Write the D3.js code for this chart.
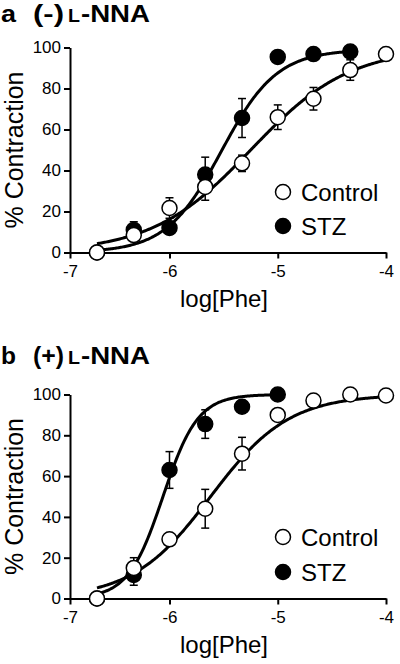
<!DOCTYPE html>
<html>
<head>
<meta charset="utf-8">
<script src="https://cdn.jsdelivr.net/npm/d3@7"></script>
<style>
  html, body { margin: 0; padding: 0; background: #fff; }
  svg { display: block; }
  text { font-family: Arial, "Liberation Sans", Helvetica, sans-serif; fill: #000; }
</style>
</head>
<body>
<svg id="chart" width="400" height="664"></svg>
<script>
// ---- data ----
const doses = [-6.67, -6.33, -6, -5.67, -5.33, -5, -4.67, -4.33, -4];
const xTicks = [-7, -6, -5, -4];
const yTicks = [0, 20, 40, 60, 80, 100];

// Panel a: (-) L-NNA
const controlA    = [0, 8.5, 21.7, 32, 43.5, 66, 75, 89, 96.8];
const controlAErr = [0, 3, 5, 6.5, 4, 6, 5.5, 5, 0];
const stzA        = [0, 11, 12, 38, 65.6, 95.4, 96.8, 98];
const stzAErr     = [0, 4, 3, 8.5, 9.5, 2, 2, 2];

// Panel b: (+) L-NNA
const controlB    = [0, 15, 29, 44, 71, 90, 97, 100, 99.5];
const controlBErr = [0, 5, 2, 9.5, 8, 1, 1, 0, 0];
const stzB        = [0, 11.5, 63, 85.5, 94, 100];
const stzBErr     = [0, 5, 9, 7, 3, 1];

// fitted sigmoid curves: [bottom, top, logEC50, hillSlope, xStart, xEnd]
const fitControlA = [0, 100, -5.25, 0.95, -6.67, -4];
const fitStzA     = [0, 99, -5.52, 1.7, -6.67, -4.33];
const fitControlB = [0, 100, -5.62, 1.2, -6.67, -4];
const fitStzB     = [0, 100, -6.06, 2.7, -6.67, -5];

const svg = d3.select("#chart");

function hill(p, x) {
  return p[0] + (p[1] - p[0]) / (1 + Math.pow(10, (p[2] - x) * p[3]));
}

function panel(opt) {
  const g = svg.append("g");
  const x = d3.scaleLinear().domain([-6, -4]).range([169.5, 386]);
  const xAxisScale = d3.scaleLinear().domain([-7, -6, -4]).range([70, 169.5, 386]);
  const y = d3.scaleLinear().domain([0, 100]).range([opt.y0, opt.y100]);

  // axes
  const yAxis = g.append("g").attr("transform", "translate(70,0)")
    .call(d3.axisLeft(y).tickValues(yTicks).tickSize(6).tickPadding(3).tickSizeOuter(0));
  yAxis.select(".domain").attr("stroke-width", 2);
  yAxis.selectAll(".tick line").attr("stroke-width", 2);
  yAxis.selectAll(".tick text").attr("font-size", 17).style("font-family", "Arial, 'Liberation Sans', sans-serif");

  const xAxis = g.append("g").attr("transform", `translate(0,${opt.y0})`)
    .call(d3.axisBottom(xAxisScale).tickValues(xTicks).tickSize(6).tickPadding(6).tickSizeOuter(0)
      .tickFormat(d => "-" + Math.abs(d)));
  xAxis.select(".domain").attr("stroke-width", 2);
  xAxis.selectAll(".tick line").attr("stroke-width", 2);
  xAxis.selectAll(".tick text").attr("font-size", 17).style("font-family", "Arial, 'Liberation Sans', sans-serif");

  g.append("text").attr("x", 224).attr("y", opt.y0 + 54.5)
    .attr("text-anchor", "middle").attr("font-size", 24).text("log[Phe]");
  g.append("text")
    .attr("transform", `translate(23,${(opt.y0 + opt.y100) / 2}) rotate(-90)`)
    .attr("text-anchor", "middle").attr("font-size", 25).text("% Contraction");

  // title
  const tg = g.append("g").attr("font-weight", "bold");
  tg.append("text").attr("x", 1).attr("y", opt.titleY).attr("font-size", 24)
    .attr("textLength", 15).attr("lengthAdjust", "spacingAndGlyphs").text(opt.letter);
  tg.append("text").attr("x", 33).attr("y", opt.titleY).attr("font-size", 24)
    .attr("textLength", 31).attr("lengthAdjust", "spacingAndGlyphs").text(opt.sign);
  tg.append("text").attr("x", 68).attr("y", opt.titleY).attr("font-size", 18)
    .attr("textLength", 12).attr("lengthAdjust", "spacingAndGlyphs").text("L");
  tg.append("text").attr("x", 81).attr("y", opt.titleY).attr("font-size", 24)
    .attr("textLength", 69).attr("lengthAdjust", "spacingAndGlyphs").text("-NNA");

  // series
  const series = [
    { vals: opt.stz, err: opt.stzErr, fit: opt.fitStz, fill: "#000" },
    { vals: opt.control, err: opt.controlErr, fit: opt.fitControl, fill: "#fff" }
  ];

  // error bars
  series.forEach(s => {
    const eg = g.append("g").attr("stroke", "#000").attr("stroke-width", 1.5);
    s.vals.forEach((v, i) => {
      const e = s.err[i];
      if (!e) return;
      const cx = x(doses[i]);
      eg.append("line").attr("x1", cx).attr("x2", cx).attr("y1", y(v - e)).attr("y2", y(v + e));
      eg.append("line").attr("x1", cx - 4).attr("x2", cx + 4).attr("y1", y(v - e)).attr("y2", y(v - e));
      eg.append("line").attr("x1", cx - 4).attr("x2", cx + 4).attr("y1", y(v + e)).attr("y2", y(v + e));
    });
  });

  // fitted curves
  series.forEach(s => {
    const fit = s.fit;
    const line = d3.line().x(d => x(d)).y(d => y(hill(fit, d)));
    const pts = d3.range(fit[4], fit[5], 0.01).concat([fit[5]]);
    g.append("path").attr("d", line(pts)).attr("fill", "none")
      .attr("stroke", "#000").attr("stroke-width", 3).attr("stroke-linejoin", "round");
  });

  // markers
  series.forEach(s => {
    g.append("g").selectAll("circle").data(s.vals).join("circle")
      .attr("cx", (d, i) => x(doses[i])).attr("cy", d => y(d)).attr("r", 7.5)
      .attr("fill", s.fill).attr("stroke", "#000").attr("stroke-width", 1.5);
  });

  // legend
  const lg = g.append("g");
  [["Control", "#fff", opt.legY[0]], ["STZ", "#000", opt.legY[1]]].forEach(([name, fill, ly]) => {
    lg.append("circle").attr("cx", 283).attr("cy", ly).attr("r", 7.5)
      .attr("fill", fill).attr("stroke", "#000").attr("stroke-width", 1.5);
    lg.append("text").attr("x", 301).attr("y", ly + 8.5).attr("font-size", 24).text(name);
  });
}

panel({
  y0: 252.5, y100: 47.5, titleY: 22, letter: "a", sign: "(-)",
  control: controlA, controlErr: controlAErr, stz: stzA, stzErr: stzAErr,
  fitControl: fitControlA, fitStz: fitStzA, legY: [192, 226]
});
panel({
  y0: 598.5, y100: 394.5, titleY: 364, letter: "b", sign: "(+)",
  control: controlB, controlErr: controlBErr, stz: stzB, stzErr: stzBErr,
  fitControl: fitControlB, fitStz: fitStzB, legY: [537, 572]
});
</script>
</body>
</html>
